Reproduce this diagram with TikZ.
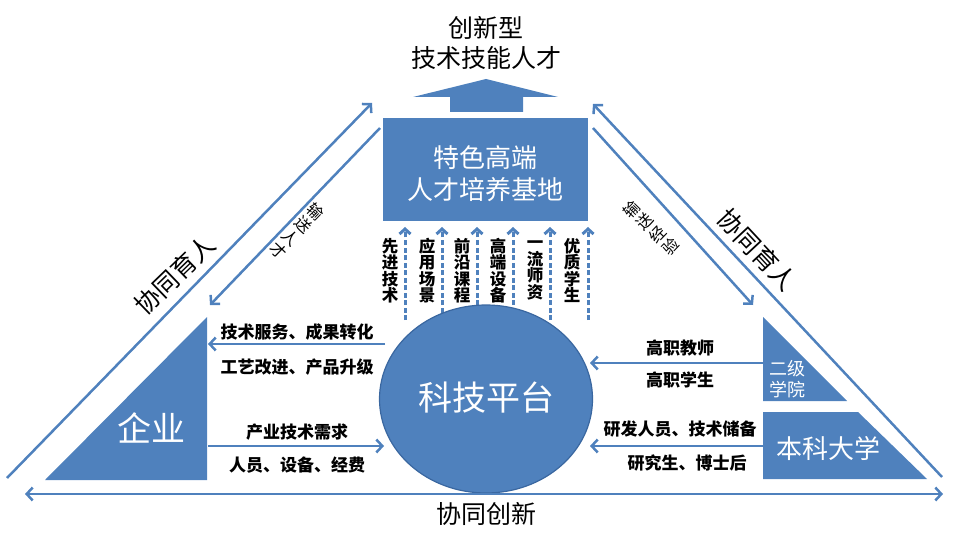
\documentclass[tikz,border=0pt]{standalone}
\usepackage{fontspec}
\newfontfamily\cjk{Noto Sans CJK SC}
\usetikzlibrary{arrows.meta,shapes.geometric}
\definecolor{pblue}{HTML}{4F81BD}
\definecolor{pedge}{HTML}{3A67A0}
\tikzset{
  ln/.style={draw=pblue, line width=2.5pt},
  arr/.style={ln, -{Straight Barb[length=6pt,width=13pt]}},
  darr/.style={ln, {Straight Barb[length=6pt,width=13pt]}-{Straight Barb[length=6pt,width=13pt]}},
  dasharr/.style={draw=pblue, line width=3pt, dash pattern=on 5pt off 2.5pt, -{Straight Barb[length=5pt,width=11pt]}},
  lbl/.style={font=\cjk\bfseries\fontsize{17}{18}\selectfont, inner sep=0pt},
  vlbl/.style={font=\cjk\bfseries\fontsize{16.5}{16.5}\selectfont, align=center, inner sep=0pt},
  wtxt/.style={text=white, inner sep=0pt, align=center},
  txt/.style={inner sep=0pt, align=center},
}
\begin{document}
\begin{tikzpicture}[x=1pt,y=-1pt]
\useasboundingbox (0,0) rectangle (960,537);

% top title
\node[txt, font=\cjk\fontsize{25}{30}\selectfont] (t1) at (486,28) {创新型};
\node[txt, font=\cjk\fontsize{25}{30}\selectfont] (t2) at (486,58) {技术技能人才};

% up arrow
\fill[pblue] (413,97) -- (486,79) -- (558,97) -- (523,97) -- (523,112) -- (450,112) -- (450,97) -- cycle;

% base box
\node[fill=pblue, minimum width=205pt, minimum height=103pt, inner sep=0pt] (base) at (485.5,169.5) {};
\node[wtxt, font=\cjk\fontsize{26}{32}\selectfont] (basetxt) at (485.5,174) {特色高端\\人才培养基地};

% dashed arrows and vertical labels
\foreach \i/\tx/\ax/\lab in {1/390/405/{先\\进\\技\\术},2/427/442/{应\\用\\场\\景},3/462/477/{前\\沿\\课\\程},4/498/513/{高\\端\\设\\备},5/535/550/{一\\流\\师\\资},6/572/588/{优\\质\\学\\生}}{
  \coordinate (da\i) at (\ax,320);
  \coordinate (db\i) at (\ax,227);
  \draw[dasharr] (da\i) -- (db\i);
  \node[vlbl] (v\i) at (\tx,270.5) {\lab};
}

% circle
\node[ellipse, fill=pblue, draw=pedge, line width=1.2pt, minimum width=213pt, minimum height=188pt, inner sep=0pt] (pf) at (486,399) {};
\node[wtxt, font=\cjk\fontsize{34}{40}\selectfont] (pftxt) at (486,398) {科技平台};

% left triangle
\fill[pblue] (45,480) -- (207,480) -- (207,317) -- cycle;
\node[wtxt, font=\cjk\fontsize{34}{40}\selectfont] (qy) at (151,428) {企业};

% right shapes
\fill[pblue] (763,317) -- (763,401) -- (847,401) -- cycle;
\node[wtxt, font=\cjk\fontsize{18}{21}\selectfont] (ej) at (787,379.5) {二级\\学院};
\fill[pblue] (763,412) -- (858,412) -- (927,479) -- (763,479) -- cycle;
\node[wtxt, font=\cjk\fontsize{26}{30}\selectfont] (bk) at (828,448) {本科大学};

% big diagonals
\coordinate (lb) at (7,478);
\coordinate (lt) at (372,103);
\coordinate (rb) at (942,477);
\coordinate (rt) at (593,104);
\draw[arr] (lb) -- (lt);
\draw[arr] (rb) -- (rt);

% inner diagonals
\coordinate (ils) at (380,128);
\coordinate (ile) at (210,305);
\coordinate (irs) at (593,128);
\coordinate (ire) at (753,305);
\draw[arr] (ils) -- (ile);
\draw[arr] (irs) -- (ire);

% bottom double arrow
\coordinate (bl) at (25,494);
\coordinate (br) at (943,494);
\draw[darr] (bl) -- (br);
\node[txt, font=\cjk\fontsize{25}{30}\selectfont] (xc) at (486,514) {协同创新};

% rotated labels
\node[txt, font=\cjk\fontsize{25}{30}\selectfont, rotate=44] (xl) at (175,275) {协同育人};
\node[txt, font=\cjk\fontsize{25}{30}\selectfont, rotate=-47] (xr) at (757,250) {协同育人};
\node[txt, font=\cjk\fontsize{16}{18}\selectfont, rotate=-44] (ssl) at (297,231) {输\\送\\人\\才};
\node[txt, font=\cjk\fontsize{16}{18}\selectfont, rotate=46] (ssr) at (651,228) {输\\送\\经\\验};

% horizontal arrows left
\coordinate (a1s) at (385,344);
\coordinate (a1e) at (208,344);
\coordinate (a2s) at (208,446);
\coordinate (a2e) at (384,446);
\draw[arr] (a1s) -- (a1e);
\draw[arr] (a2s) -- (a2e);
\node[lbl] (l1) at (297,332) {技术服务、成果转化};
\node[lbl] (l2) at (297,367) {工艺改进、产品升级};
\node[lbl] (l3) at (297,432) {产业技术需求};
\node[lbl] (l4) at (297,465) {人员、设备、经费};

% horizontal arrows right
\coordinate (a3s) at (763,363);
\coordinate (a3e) at (590,363);
\coordinate (a4s) at (763,446);
\coordinate (a4e) at (590,446);
\draw[arr] (a3s) -- (a3e);
\draw[arr] (a4s) -- (a4e);
\node[lbl] (r1) at (680,348) {高职教师};
\node[lbl] (r2) at (680,380) {高职学生};
\node[lbl] (r3) at (680,429) {研发人员、技术储备};
\node[lbl] (r4) at (687,463) {研究生、博士后};
\end{tikzpicture}
\end{document}
